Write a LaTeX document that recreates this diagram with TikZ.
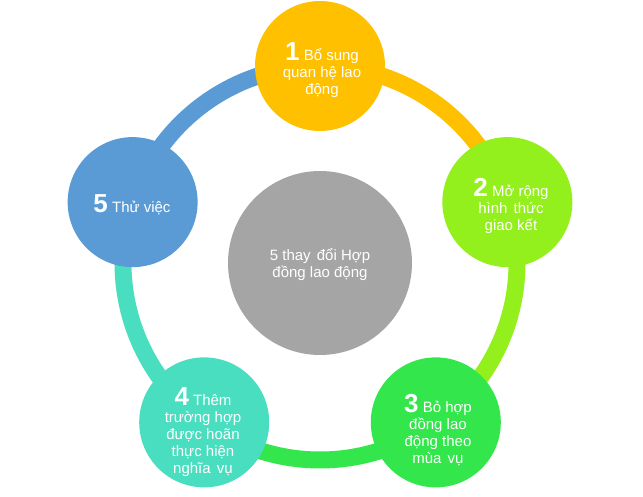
\documentclass[tikz,border=0pt]{standalone}
\usepackage{fontspec}
\setmainfont{Liberation Sans}
\usetikzlibrary{calc}
\definecolor{cOne}{HTML}{FFC000}
\definecolor{cTwo}{HTML}{94F01C}
\definecolor{cThree}{HTML}{32E64B}
\definecolor{cFour}{HTML}{4ADEC0}
\definecolor{cFive}{HTML}{5B9BD5}
\definecolor{cMid}{HTML}{A5A5A5}
\newcommand{\dsp}{\ \hspace{2pt}}
\begin{document}
\begin{tikzpicture}[x=1pt,y=1pt,
  ringarc/.style={line width=17pt},
  bubble/.style={circle, minimum size=130pt, inner sep=0pt},
  lbl/.style={text=white, align=center, inner sep=0pt, font=\fontsize{15}{17}\selectfont}]
\useasboundingbox (0,0) rectangle (643,496);
\coordinate (ctr) at (320,233);
% ring arcs
\draw[ringarc, cOne]   (ctr) ++(90:197)   arc[start angle=90,   end angle=18,   radius=197];
\draw[ringarc, cTwo]   (ctr) ++(18:197)   arc[start angle=18,   end angle=-54,  radius=197];
\draw[ringarc, cThree] (ctr) ++(-54:197)  arc[start angle=-54,  end angle=-126, radius=197];
\draw[ringarc, cFour]  (ctr) ++(-126:197) arc[start angle=-126, end angle=-198, radius=197];
\draw[ringarc, cFive]  (ctr) ++(162:197)  arc[start angle=162,  end angle=90,   radius=197];
% bubbles
\node[bubble, fill=cOne]   (n1) at ($(ctr)+(90:197)$)   {};
\node[bubble, fill=cTwo]   (n2) at ($(ctr)+(18:197)$)   {};
\node[bubble, fill=cThree] (n3) at ($(ctr)+(-54:197)$)  {};
\node[bubble, fill=cFour]  (n4) at ($(ctr)+(-126:197)$) {};
\node[bubble, fill=cFive]  (n5) at ($(ctr)+(162:197)$)  {};
\node[circle, minimum size=184pt, inner sep=0pt, fill=cMid] (mid) at (ctr) {};
% labels
\node[lbl] (t1) at (322,426) {{\fontsize{26}{26}\selectfont\bfseries 1} Bổ sung\\quan hệ lao\\động};
\node[lbl] (t2) at (511,290) {{\fontsize{26}{26}\selectfont\bfseries 2} Mở rộng\\hình\dsp thức\\giao kết};
\node[lbl] (t3) at (438,66) {{\fontsize{26}{26}\selectfont\bfseries 3} Bỏ hợp\\đồng lao\\động theo\\mùa\dsp vụ};
\node[lbl] (t4) at (203,64) {{\fontsize{26}{26}\selectfont\bfseries 4} Thêm\\trường hợp\\được hoãn\\thực hiện\\nghĩa\dsp vụ};
\node[lbl] (t5) at (132,291) {{\fontsize{26}{26}\selectfont\bfseries 5} Thử việc};
\node[lbl] (tm) at (320,231) {5 thay\dsp đổi Hợp\\đồng lao động};
\end{tikzpicture}
\end{document}
